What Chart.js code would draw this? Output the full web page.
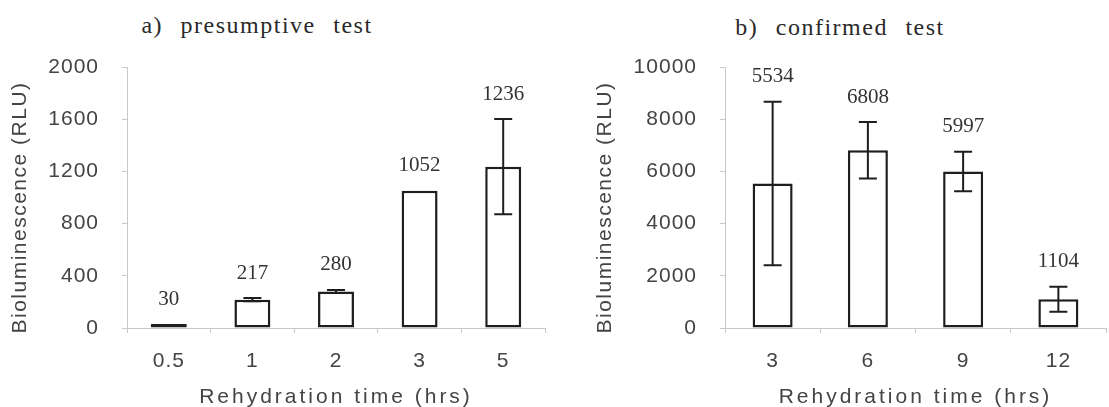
<!DOCTYPE html>
<html>
<head>
<meta charset="utf-8">
<script src="https://cdn.jsdelivr.net/npm/chart.js@4.4.0/dist/chart.umd.min.js"></script>
<style>
  body { margin: 0; background: #fff; width: 1109px; height: 407px; overflow: hidden; position: relative; }
  canvas { position: absolute; top: 0; }
  #chartA { left: 0; }
  #chartB { left: 560px; }
  .panel-title {
    position: absolute;
    font-family: 'Liberation Serif', serif;
    font-size: 24px;
    color: #2a2a2a;
    letter-spacing: 1.5px;
    word-spacing: 10px;
    white-space: nowrap;
    transform: translate(-50%, -50%);
  }
</style>
</head>
<body>
<div class="panel-title" style="left:257px;top:25px">a) presumptive test</div>
<div class="panel-title" style="left:840px;top:27px">b) confirmed test</div>
<canvas id="chartA" width="560" height="407"></canvas>
<canvas id="chartB" width="549" height="407"></canvas>
<script>
// a) presumptive test
var hoursA = ['0.5', '1', '2', '3', '5'];
var rluA = [30, 217, 280, 1052, 1236];
var errA = [0, 12, 12, 0, 365];
var ticksA = [0, 400, 800, 1200, 1600, 2000];

// b) confirmed test
var hoursB = ['3', '6', '9', '12'];
var rluB = [5534, 6808, 5997, 1104];
var errB = [3130, 1080, 760, 480];
var ticksB = [0, 2000, 4000, 6000, 8000, 10000];

var sans = "'Liberation Sans', Arial, sans-serif";
var serif = "'Liberation Serif', 'Times New Roman', serif";
var axisGray = '#c8c8c8';
var textGray = '#444';

// error bars + value labels above each bar
var errorBars = {
  id: 'errorBars',
  afterDatasetsDraw: function(chart, args, opts) {
    var ctx = chart.ctx;
    var y = chart.scales.y;
    var meta = chart.getDatasetMeta(0);
    var values = chart.data.datasets[0].data;
    ctx.save();
    ctx.letterSpacing = '0px';
    ctx.strokeStyle = '#1e1e1e';
    ctx.lineWidth = 2;
    ctx.fillStyle = '#333';
    ctx.font = '21px ' + serif;
    ctx.textAlign = 'center';
    ctx.textBaseline = 'middle';
    meta.data.forEach(function(bar, i) {
      var v = values[i];
      var e = opts.errors[i];
      var top = y.getPixelForValue(v + e);
      if (e > 0) {
        var bot = y.getPixelForValue(v - e);
        ctx.beginPath();
        ctx.moveTo(bar.x, top);
        ctx.lineTo(bar.x, bot);
        ctx.moveTo(bar.x - 9, top);
        ctx.lineTo(bar.x + 9, top);
        ctx.moveTo(bar.x - 9, bot);
        ctx.lineTo(bar.x + 9, bot);
        ctx.stroke();
      }
      ctx.fillText(String(v), bar.x, Math.min(top, bar.y) - 25);
    });
    ctx.restore();
  }
};

// the scanned figure has wide letter spacing, canvas needs it set by hand
var spacing = {
  id: 'spacing',
  beforeDraw: function(chart) {
    chart.ctx.letterSpacing = '1px';
    var x = chart.scales.x, y = chart.scales.y;
    if (!x._spaced) {
      var drawX = x.drawTitle;
      x.drawTitle = function() {
        this.ctx.save();
        this.ctx.letterSpacing = '3px';
        drawX.call(this);
        this.ctx.restore();
      };
      var drawY = y.drawTitle;
      y.drawTitle = function() {
        this.ctx.save();
        this.ctx.letterSpacing = '1.5px';
        this.ctx.translate(0, 10);
        drawY.call(this);
        this.ctx.restore();
      };
      x._spaced = true;
    }
  }
};

function makeChart(id, labels, values, errors, ticks, cfg) {
  var ctx = document.getElementById(id).getContext('2d');
  return new Chart(ctx, {
    type: 'bar',
    data: {
      labels: labels,
      datasets: [{
        data: values,
        backgroundColor: '#fff',
        borderColor: '#1e1e1e',
        borderWidth: 2.5,
        borderSkipped: false,
        barPercentage: cfg.barPct,
        categoryPercentage: 1
      }]
    },
    options: {
      responsive: false,
      animation: false,
      layout: { padding: { top: 67, right: cfg.padRight, left: 0, bottom: 0 } },
      plugins: {
        legend: { display: false },
        tooltip: { enabled: false },
        errorBars: { errors: errors }
      },
      scales: {
        x: {
          grid: { drawOnChartArea: false, color: axisGray, tickLength: 5, offset: true },
          border: { color: axisGray },
          ticks: { color: textGray, font: { family: sans, size: 21 }, padding: 16 },
          title: {
            display: true,
            text: 'Rehydration time (hrs)',
            color: textGray,
            font: { family: sans, size: 21, lineHeight: 0.9 },
            padding: { top: 0, bottom: 0 }
          },
          afterFit: function(s) { s.height = 79; }
        },
        y: {
          min: ticks[0],
          max: ticks[ticks.length - 1],
          grid: { drawOnChartArea: false, color: axisGray, tickLength: 5 },
          border: { color: axisGray },
          ticks: {
            stepSize: ticks[1] - ticks[0],
            color: textGray,
            font: { family: sans, size: 21 },
            padding: 23,
            callback: function(v) { return String(v); }
          },
          title: {
            display: true,
            text: 'Bioluminescence (RLU)',
            color: textGray,
            font: { family: sans, size: 21 },
            padding: { top: cfg.titlePad, bottom: 0 }
          },
          afterFit: function(s) { s.width = cfg.axisLeft; }
        }
      }
    },
    plugins: [spacing, errorBars]
  });
}

makeChart('chartA', hoursA, rluA, errA, ticksA, { barPct: 0.43, padRight: 15, axisLeft: 127, titlePad: 8 });
makeChart('chartB', hoursB, rluB, errB, ticksB, { barPct: 0.42, padRight: 3, axisLeft: 165, titlePad: 33 });
</script>
</body>
</html>
